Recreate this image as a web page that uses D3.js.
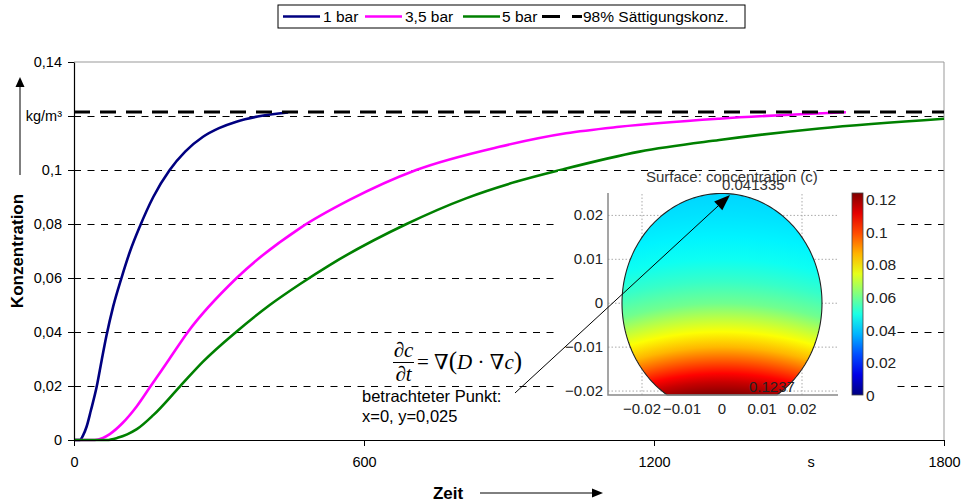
<!DOCTYPE html>
<html><head><meta charset="utf-8">
<script src="https://cdn.jsdelivr.net/npm/d3@7"></script>
<style>body{margin:0;background:#fff} svg{display:block;font-family:Arial,"Liberation Sans",sans-serif}</style>
</head><body><svg id="c" width="968" height="502"></svg>
<script>
// ---- data ----
const seriesNames = ["1 bar", "3,5 bar", "5 bar"];
const t1bar = [0, 12, 19, 26, 35, 47, 57, 67, 81, 98, 116, 136, 164, 198, 230, 267, 300, 336, 380, 443];
const c1bar = [0, 0, 0.0018, 0.0049, 0.011, 0.0198, 0.0293, 0.0385, 0.0494, 0.0599, 0.0699, 0.0790, 0.0900, 0.1000, 0.1068, 0.1123, 0.1155, 0.1179, 0.1198, 0.1213];
const t35bar = [0, 43, 60, 74, 100, 130, 157, 198, 236, 336, 467, 570, 708, 880, 1018, 1128, 1335, 1597];
const c35bar = [0, 0, 0.0008, 0.0022, 0.0062, 0.0125, 0.0195, 0.0302, 0.0401, 0.0599, 0.0784, 0.0889, 0.1000, 0.1086, 0.1136, 0.1160, 0.1190, 0.1214];
const t5bar = [0, 68, 90, 110, 130, 164, 219, 268, 336, 405, 467, 529, 688, 811, 916, 1011, 1170, 1335, 1542, 1800];
const c5bar = [0, 0, 0.0008, 0.0021, 0.0040, 0.0092, 0.0198, 0.0292, 0.0401, 0.0500, 0.0577, 0.0648, 0.0800, 0.0895, 0.0957, 0.1002, 0.1068, 0.1111, 0.1154, 0.1190];
const saturationName = "98% Sättigungskonz.";
const saturationValue = 0.1215;
const yTicks = [0, 0.02, 0.04, 0.06, 0.08, 0.1, 0.12, 0.14];
const yTickLabels = ["0", "0,02", "0,04", "0,06", "0,08", "0,1", "kg/m³", "0,14"];
const gridValues = [0.02, 0.04, 0.06, 0.08, 0.1, 0.12];
const xTicks = [0, 600, 1200, 1800];
const xTickLabels = ["0", "600", "1200", "1800"];
// inset (COMSOL surface plot)
const insetXTicks = [-0.02, -0.01, 0, 0.01, 0.02];
const insetXGrid = [-0.02, 0, 0.02];
const insetYTicks = [-0.02, -0.01, 0, 0.01, 0.02];
const colorbarTicks = [0, 0.02, 0.04, 0.06, 0.08, 0.1, 0.12];
const profileY = [-0.021, -0.018, -0.016, -0.013, -0.010, -0.0065, -0.003, 0, 0.005, 0.01, 0.015, 0.02, 0.025];
const profileC = [0.1237, 0.115, 0.108, 0.097, 0.086, 0.077, 0.068, 0.060, 0.053, 0.048, 0.045, 0.043, 0.0413];
const cMin = 0.041335, cMax = 0.1237;
const shapeRadius = 0.025, shapeCut = -0.0209;

// ---- styles ----
const colors = ["#000080", "#ff00ff", "#008000"];

const svg = d3.select("#c");
svg.append("rect").attr("width", 968).attr("height", 502).attr("fill", "#fff");
const defs = svg.append("defs");

const x = d3.scaleLinear().domain([0, 1800]).range([74, 944]);
const y = d3.scaleLinear().domain([0, 0.14]).range([440, 62]);

// gridlines
svg.append("g").selectAll("line").data(gridValues).join("line")
  .attr("x1", x(0)).attr("x2", x(1800)).attr("y1", d => Math.round(y(d)) + 0.5).attr("y2", d => Math.round(y(d)) + 0.5)
  .attr("stroke", "#000").attr("stroke-width", 1).attr("stroke-dasharray", "7,6.5");
// plot border top/right
svg.append("path").attr("d", `M${x(0)},${y(0.14)}H${x(1800)}V${y(0)}`)
  .attr("fill", "none").attr("stroke", "#999").attr("stroke-width", 1);

// curves
const line = d3.line().x(d => x(d[0])).y(d => y(d[1])).curve(d3.curveMonotoneX);
const series = [d3.zip(t1bar, c1bar), d3.zip(t35bar, c35bar), d3.zip(t5bar, c5bar)];
series.forEach((s, i) => {
  svg.append("path").datum(s).attr("d", line).attr("fill", "none")
    .attr("stroke", colors[i]).attr("stroke-width", 2.6).attr("stroke-linejoin", "round");
});
// saturation line
svg.append("line").attr("x1", x(0)).attr("x2", x(1800))
  .attr("y1", y(saturationValue)).attr("y2", y(saturationValue))
  .attr("stroke", "#000").attr("stroke-width", 3).attr("stroke-dasharray", "16,10");

// axes
const yAxis = d3.axisLeft(y).tickValues(yTicks).tickFormat((d, i) => yTickLabels[i]).tickSize(6).tickSizeOuter(0).tickPadding(6);
const gy = svg.append("g").attr("transform", `translate(${x(0)},0)`).call(yAxis);
const xAxis = d3.axisBottom(x).tickValues(xTicks).tickFormat((d, i) => xTickLabels[i]).tickSize(6).tickSizeOuter(0).tickPadding(11);
const gx = svg.append("g").attr("transform", `translate(0,${y(0)})`).call(xAxis);
[gx, gy].forEach(g => {
  g.attr("font-family", "Arial, 'Liberation Sans', sans-serif").attr("font-size", 14.5);
  g.selectAll("text").attr("fill", "#000");
  g.selectAll("line").attr("stroke", "#000");
  g.select(".domain").attr("stroke", "#000").attr("stroke-width", 1.2);
});
svg.append("text").attr("x", x(1525)).attr("y", 467).attr("text-anchor", "middle")
  .attr("font-size", 14.5).text("s");

// ---- inset ----
const inset = svg.append("g");
inset.append("rect").attr("x", 558).attr("y", 171).attr("width", 338).attr("height", 254).attr("fill", "#fff");
const ix = d3.scaleLinear().domain([-0.0285, 0.029]).range([608, 838]);
const iy = d3.scaleLinear().domain([shapeCut, 0.0251]).range([395, 193]);
const cb = d3.scaleLinear().domain([0, cMax]).range([395, 193]);
function jet(t) {
  const c = v => Math.max(0, Math.min(1, v));
  return d3.rgb(255 * c(1.5 - Math.abs(4 * t - 3)), 255 * c(1.5 - Math.abs(4 * t - 2)), 255 * c(1.5 - Math.abs(4 * t - 1))).formatHex();
}
// grid
inset.append("g").selectAll("line").data(insetYTicks).join("line")
  .attr("x1", ix.range()[0]).attr("x2", ix.range()[1]).attr("y1", d => iy(d)).attr("y2", d => iy(d))
  .attr("stroke", "#aaa").attr("stroke-width", 1).attr("stroke-dasharray", "1.5,2");
inset.append("g").selectAll("line").data(insetXGrid).join("line")
  .attr("x1", d => ix(d)).attr("x2", d => ix(d)).attr("y1", iy.range()[0]).attr("y2", iy.range()[1])
  .attr("stroke", "#aaa").attr("stroke-width", 1).attr("stroke-dasharray", "1.5,2");
// surface gradient (radial, iso-lines curved)
const gcx = ix(0), gcy = iy(-0.08), gr = gcy - iy(shapeRadius);
const rg = defs.append("radialGradient").attr("id", "surf").attr("gradientUnits", "userSpaceOnUse")
  .attr("cx", gcx).attr("cy", gcy).attr("fx", gcx).attr("fy", gcy).attr("r", gr);
profileY.forEach((py, i) => {
  rg.append("stop").attr("offset", ((gcy - iy(py)) / gr).toFixed(4)).attr("stop-color", jet(profileC[i] / cMax));
});
const a0 = Math.asin(shapeCut / shapeRadius), a1 = Math.PI - a0;
const shapePts = d3.range(0, 181).map(k => {
  const a = a0 + (a1 - a0) * k / 180;
  return [ix(shapeRadius * Math.cos(a)), iy(shapeRadius * Math.sin(a))];
});
inset.append("path").attr("d", d3.line()(shapePts) + "Z")
  .attr("fill", "url(#surf)").attr("stroke", "#222").attr("stroke-width", 1.1);
// inset axes
inset.append("path").attr("d", `M${ix.range()[0]},${iy.range()[1]}V${iy.range()[0]}H${ix.range()[1]}`)
  .attr("fill", "none").attr("stroke", "#888").attr("stroke-width", 1.5);
inset.append("g").selectAll("text").data(insetYTicks).join("text")
  .attr("x", 603).attr("y", d => iy(d) + 5).attr("text-anchor", "end")
  .attr("font-size", 15).attr("fill", "#222").text(d => d === 0 ? "0" : d3.format(".2f")(d));
inset.append("g").selectAll("text").data(insetXTicks).join("text")
  .attr("x", d => ix(d)).attr("y", 414).attr("text-anchor", "middle")
  .attr("font-size", 15).attr("fill", "#222").text(d => d === 0 ? "0" : d3.format(".2f")(d));
// colorbar
const lg = defs.append("linearGradient").attr("id", "cbar").attr("x1", 0).attr("y1", 1).attr("x2", 0).attr("y2", 0);
d3.range(0, 11).forEach(k => lg.append("stop").attr("offset", k / 10).attr("stop-color", jet(k / 10)));
inset.append("rect").attr("x", 852).attr("y", cb(cMax)).attr("width", 11).attr("height", cb(0) - cb(cMax))
  .attr("fill", "url(#cbar)").attr("stroke", "#444").attr("stroke-width", 0.8);
inset.append("g").selectAll("text").data(colorbarTicks).join("text")
  .attr("x", 866).attr("y", d => cb(d) + 6).attr("font-size", 15.5).attr("fill", "#222")
  .text(d => d === 0 ? "0" : String(+d.toFixed(2)));
inset.append("text").attr("x", 646).attr("y", 182).attr("font-size", 15).attr("fill", "#333").text("Surface: concentration (c)");
inset.append("text").attr("x", ix(0)).attr("y", 190).attr("font-size", 15).attr("fill", "#333").text(String(cMin));
inset.append("text").attr("x", 749).attr("y", 392).attr("font-size", 15).attr("fill", "#222").text(String(cMax));

// ---- annotation arrow ----
function arrow(g, x0, y0, x1, y1, len, half, w) {
  const ang = Math.atan2(y1 - y0, x1 - x0);
  const bx = x1 - len * Math.cos(ang), by = y1 - len * Math.sin(ang);
  g.append("line").attr("x1", x0).attr("y1", y0).attr("x2", bx).attr("y2", by).attr("stroke", "#000").attr("stroke-width", w);
  const px = -Math.sin(ang) * half, py = Math.cos(ang) * half;
  g.append("path").attr("d", `M${x1},${y1}L${bx + px},${by + py}L${bx - px},${by - py}Z`).attr("fill", "#000");
}
arrow(svg, 515, 393, 730, 195, 16, 6, 1);

// equation
const eq = svg.append("g").attr("font-family", "'Liberation Serif','Times New Roman','DejaVu Serif',serif").attr("font-size", 21).attr("fill", "#000");
eq.append("text").attr("x", 403.5).attr("y", 357).attr("text-anchor", "middle").html('∂<tspan font-style="italic">c</tspan>');
eq.append("line").attr("x1", 393).attr("x2", 414).attr("y1", 362.5).attr("y2", 362.5).attr("stroke", "#000").attr("stroke-width", 1);
eq.append("text").attr("x", 403.5).attr("y", 381).attr("text-anchor", "middle").html('∂<tspan font-style="italic">t</tspan>');
eq.append("text").attr("x", 417).attr("y", 369)
  .html('= ∇<tspan font-size="25">(</tspan><tspan font-style="italic">D</tspan> · ∇<tspan font-style="italic">c</tspan><tspan font-size="25">)</tspan>');

svg.append("text").attr("x", 362).attr("y", 401.5).attr("font-size", 16.5).text("betrachteter Punkt:");
svg.append("text").attr("x", 362).attr("y", 421.5).attr("font-size", 16.5).text("x=0, y=0,025");

// ---- axis titles ----
svg.append("text").attr("transform", "translate(23,251) rotate(-90)").attr("text-anchor", "middle")
  .attr("font-size", 17).attr("font-weight", "bold").text("Konzentration");
arrow(svg, 20, 175, 20, 77, 10, 4.5, 1);
svg.append("text").attr("x", 448).attr("y", 499).attr("text-anchor", "middle")
  .attr("font-size", 17).attr("font-weight", "bold").text("Zeit");
arrow(svg, 480, 493, 603, 493, 11, 4.5, 1);

// ---- legend ----
const leg = svg.append("g").attr("font-size", 15.5);
leg.append("rect").attr("x", 278).attr("y", 5).attr("width", 467).attr("height", 23).attr("fill", "#fff").attr("stroke", "#000").attr("stroke-width", 1);
const legPos = [[283, 323], [365, 405], [463, 502]];
seriesNames.forEach((n, i) => {
  leg.append("line").attr("x1", legPos[i][0]).attr("x2", legPos[i][0] + 37).attr("y1", 16.5).attr("y2", 16.5)
    .attr("stroke", colors[i]).attr("stroke-width", 2.6);
  leg.append("text").attr("x", legPos[i][1]).attr("y", 22).text(n);
});
leg.append("line").attr("x1", 542).attr("x2", 582).attr("y1", 16.5).attr("y2", 16.5)
  .attr("stroke", "#000").attr("stroke-width", 3).attr("stroke-dasharray", "18,12");
leg.append("text").attr("x", 583).attr("y", 22).text(saturationName);
</script></body></html>
